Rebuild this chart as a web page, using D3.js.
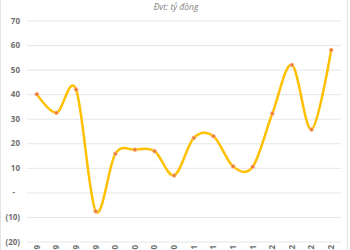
<!DOCTYPE html>
<html>
<head>
<meta charset="utf-8">
<script src="https://cdn.jsdelivr.net/npm/d3@7"></script>
<style>
  body { margin: 0; background: #fff; }
  text { font-family: "Open Sans", "DejaVu Sans", sans-serif; }
</style>
</head>
<body>
<div id="vis"></div>
<script>
var quarters = ["Q1/2019","Q2/2019","Q3/2019","Q4/2019","Q1/2020","Q2/2020","Q3/2020","Q4/2020",
                "Q1/2021","Q2/2021","Q3/2021","Q4/2021","Q1/2022","Q2/2022","Q3/2022","Q4/2022"];
var profit = [40, 32.4, 41.9, -7.7, 15.7, 17.4, 16.8, 6.9, 22.2, 22.9, 10.6, 10.4, 32.1, 51.9, 25.6, 58];
var yTicks = [-20, -10, 0, 10, 20, 30, 40, 50, 60, 70];
var unitLabel = "Đvt: tỷ đồng";

var w = 350, h = 250;

var svg = d3.select("#vis")
  .append("svg")
  .attr("width", w)
  .attr("height", h);

// frame
svg.append("rect")
  .attr("x", 0.5).attr("y", -1)
  .attr("width", 347).attr("height", h + 2)
  .attr("fill", "none")
  .attr("stroke", "#e4e4e4");

var x = d3.scaleBand()
  .domain(quarters)
  .range([27, 341]);

var y = d3.scaleLinear()
  .domain([-20, 70])
  .range([241.5, 20.5]);

svg.append("text")
  .attr("x", 176).attr("y", 10)
  .attr("text-anchor", "middle")
  .attr("font-size", 8.5)
  .attr("font-style", "italic")
  .attr("fill", "#7f7f7f")
  .text(unitLabel);

// grid + y labels
var yAxis = d3.axisLeft(y)
  .tickValues(yTicks)
  .tickSize(-(341 - 27))
  .tickPadding(7)
  .tickFormat(function(d) {
    if (d === 0) return "-";
    return d < 0 ? "(" + (-d) + ")" : d;
  });

var gy = svg.append("g")
  .attr("transform", "translate(27,0)")
  .call(yAxis);
gy.select(".domain").remove();
gy.selectAll(".tick line").attr("stroke", "#e6e6e6");
gy.selectAll(".tick text")
  .attr("font-size", 8)
  .attr("font-weight", "bold")
  .attr("fill", "#707070")
  .attr("dx", function(d) { return d === 0 ? -5 : 0; });

// x labels: rotated, reading upward, mostly below the bottom edge as in the original
var xAxis = d3.axisBottom(x).tickSize(0).tickPadding(0);
var gx = svg.append("g")
  .attr("transform", "translate(0,245)")
  .call(xAxis);
gx.select(".domain").remove();
gx.selectAll(".tick text")
  .attr("font-size", 8)
  .attr("font-weight", "bold")
  .attr("fill", "#707070")
  .attr("x", 0).attr("y", 0)
  .attr("dy", "0.35em")
  .attr("text-anchor", "end")
  .attr("transform", "rotate(-90)");

var line = d3.line()
  .x(function(d, i) { return x(quarters[i]) + x.bandwidth() / 2; })
  .y(function(d) { return y(d); })
  .curve(d3.curveCardinal.tension(0));

svg.append("path")
  .datum(profit)
  .attr("d", line)
  .attr("fill", "none")
  .attr("stroke", "#FFC000")
  .attr("stroke-width", 2.5);

svg.selectAll(".dot")
  .data(profit)
  .enter().append("circle")
  .attr("class", "dot")
  .attr("cx", function(d, i) { return x(quarters[i]) + x.bandwidth() / 2; })
  .attr("cy", function(d) { return y(d); })
  .attr("r", 2)
  .attr("fill", "#ED7D31")
  .attr("stroke", "#F8CBAD")
  .attr("stroke-width", 0.6);
</script>
</body>
</html>
